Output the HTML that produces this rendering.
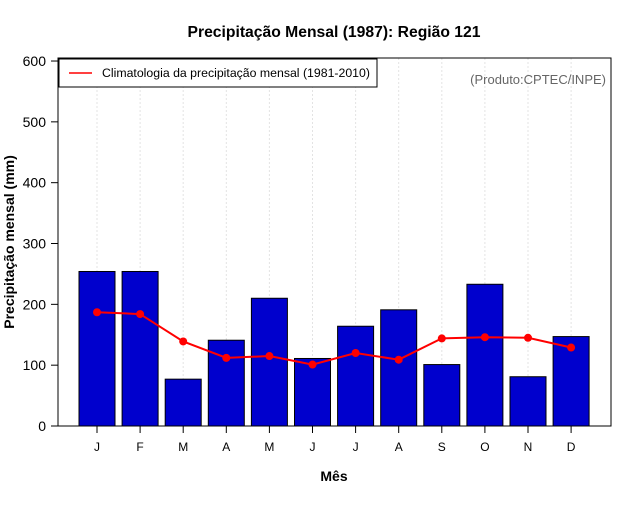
<!DOCTYPE html>
<html><head><meta charset="utf-8"><style>
body{margin:0;background:#fff;font-family:"Liberation Sans",sans-serif}
</style></head><body>
<svg width="640" height="500" viewBox="0 0 640 500" xmlns="http://www.w3.org/2000/svg" font-family="Liberation Sans, sans-serif">
<text x="334" y="37" text-anchor="middle" font-size="15.7" font-weight="bold">Precipitação Mensal (1987): Região 121</text>
<g id="grid"></g>
<g id="bars"></g>
<g id="line"></g>
<g id="yaxis"></g>
<g id="xaxis"></g>
<rect x="58" y="58" width="553" height="368" fill="none" stroke="#000" stroke-width="1"/>
<g>
<rect x="59" y="59" width="318" height="28" fill="#fff" stroke="#000"/>
<line x1="69" y1="73" x2="92" y2="73" stroke="red" stroke-width="1.5"/>
<text x="102" y="77" font-size="12.3">Climatologia da precipitação mensal (1981-2010)</text>
</g>
<text x="606" y="84" text-anchor="end" font-size="13" fill="#666">(Produto:CPTEC/INPE)</text>
<text x="334" y="481" text-anchor="middle" font-size="14" font-weight="bold">Mês</text>
<text transform="translate(14,242) rotate(-90)" text-anchor="middle" font-size="14" font-weight="bold">Precipitação mensal (mm)</text>
</svg>
<script>
const months=["J","F","M","A","M","J","J","A","S","O","N","D"];
const precip=[254,254,77,141,210,111,164,191,101,233,81,147];
const clim=[187,184,139,112,115,101,120,109,144,146,145,129];
const yTicks=[0,100,200,300,400,500,600];
const NS="http://www.w3.org/2000/svg";
function xc(i){return 97+i*43.1;}
function y(v){return 426-v*0.6083;}
function mk(tag,attrs,parent){const e=document.createElementNS(NS,tag);for(const k in attrs)e.setAttribute(k,attrs[k]);document.getElementById(parent).appendChild(e);return e;}
months.forEach((m,i)=>{
 const g=mk('line',{x1:xc(i),x2:xc(i),y1:58,y2:426,stroke:'#e3e3e3','stroke-dasharray':'2,2'},'grid');
 
 
 const b=mk('rect',{x:xc(i)-18,y:y(precip[i]),width:36,height:y(0)-y(precip[i]),fill:'#0000cd',stroke:'#000','stroke-width':1},'bars');
 
 
 const t=mk('line',{x1:xc(i),x2:xc(i),y1:426,y2:433,stroke:'#000'},'xaxis');
 
 
 const l=mk('text',{x:xc(i),y:451,'text-anchor':'middle','font-size':12},'xaxis');
 l.textContent=m;
 
 
});
const p=mk('polyline',{points:clim.map((v,i)=>xc(i)+','+y(v)).join(' '),fill:'none',stroke:'red','stroke-width':2},'line');


clim.forEach((v,i)=>{
 const c=mk('circle',{cx:xc(i),cy:y(v),r:4,fill:'red'},'line');
 
 
});
yTicks.forEach(v=>{
 const t=mk('line',{x1:51,x2:58,y1:y(v),y2:y(v),stroke:'#000'},'yaxis');
 
 
 const l=mk('text',{x:46,y:y(v)+5,'text-anchor':'end','font-size':14},'yaxis');
 l.textContent=v;
 
 
});
</script>
</body></html>
